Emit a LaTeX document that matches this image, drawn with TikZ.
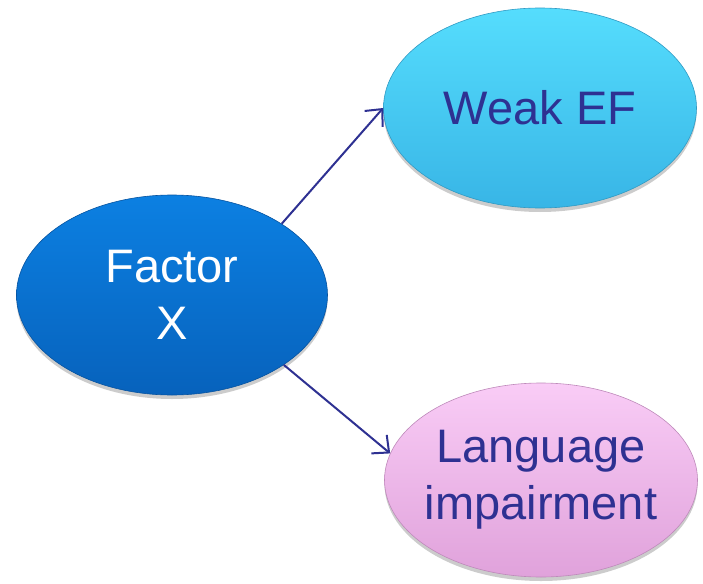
\documentclass[tikz,border=0pt]{standalone}
\usepackage{fontspec}
\setmainfont{Liberation Sans}
\usetikzlibrary{shapes.geometric,arrows.meta,shadows}

\definecolor{factorTop}{HTML}{0C80E2}
\definecolor{factorBot}{HTML}{0762BC}
\definecolor{efTop}{HTML}{55DDFD}
\definecolor{efBot}{HTML}{38B5E6}
\definecolor{langTop}{HTML}{F9CCF6}
\definecolor{langBot}{HTML}{E0A2DB}
\definecolor{inkBlue}{HTML}{2E3192}

\tikzset{
  % negative padding keeps each ellipse at its given size whatever the label
  bubble/.style={ellipse, inner sep=-30pt, align=center,
    font=\fontsize{47}{57}\selectfont,
    drop shadow={shadow xshift=0pt, shadow yshift=-4pt, opacity=0.2, fill=black}},
  factorbubble/.style={bubble, top color=factorTop, bottom color=factorBot,
    draw=factorBot!85!black, line width=0.6pt, text=white},
  efbubble/.style={bubble, top color=efTop, bottom color=efBot,
    draw=efBot!85!black, line width=0.6pt, text=inkBlue},
  langbubble/.style={bubble, top color=langTop, bottom color=langBot,
    draw=langBot!85!black, line width=0.6pt, text=inkBlue},
  link/.style={draw=inkBlue, line width=2pt,
    -{Straight Barb[length=13pt,width=24pt,line width=2pt]}}
}

\begin{document}
\begin{tikzpicture}[x=1pt, y=-1pt]
  \useasboundingbox (0,0) rectangle (703,583);

  \node[factorbubble, minimum width=311pt, minimum height=200pt] (factor) at (172,295) {Factor\\X};
  \node[efbubble, minimum width=313pt, minimum height=200pt] (ef) at (540,108) {Weak EF};
  \node[langbubble, minimum width=313pt, minimum height=194pt] (lang) at (541,480) {Language\\impairment};

  \draw[link] (factor.33) -- (ef.180);
  \draw[link] (factor.-32) -- (lang.170);
\end{tikzpicture}
\end{document}
